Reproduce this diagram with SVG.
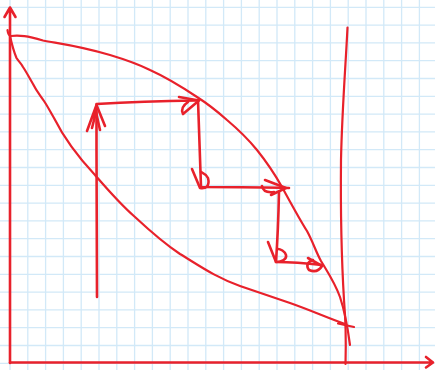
<svg xmlns="http://www.w3.org/2000/svg" width="435" height="370" viewBox="0 0 435 370">
<style>
.grid{stroke:#d2e9f8;stroke-width:1.3;fill:none}
.ink{stroke:#e8212b;stroke-width:2.6;fill:none;stroke-linecap:round;stroke-linejoin:round}
.thin{stroke-width:2.2}
</style>
<rect width="435" height="370" fill="#ffffff"/>
<path class="grid" d="M10,0V370M27.8,0V370M45.6,0V370M63.4,0V370M81.2,0V370M99,0V370M116.8,0V370M134.6,0V370M152.4,0V370M170.2,0V370M188,0V370M205.8,0V370M223.6,0V370M241.4,0V370M259.2,0V370M277,0V370M294.8,0V370M312.6,0V370M330.4,0V370M348.2,0V370M366,0V370M383.8,0V370M401.6,0V370M419.4,0V370
M0,7.3H435M0,25.1H435M0,42.9H435M0,60.7H435M0,78.5H435M0,96.3H435M0,114.1H435M0,131.9H435M0,149.7H435M0,167.5H435M0,185.3H435M0,203.1H435M0,220.9H435M0,238.7H435M0,256.5H435M0,274.3H435M0,292.1H435M0,309.9H435M0,327.7H435M0,345.5H435M0,363.3H435"/>
<g id="axes">
<path class="ink" d="M10,363V7.5M4.5,17L10,7.5L15.5,17"/>
<path class="ink" d="M10,362.5H433M426,357L433,362.5L426,367.5"/>
</g>
<g id="vertical-line">
<path class="ink thin" d="M347.5,27.5C346,60 342,110 341,160C340.5,210 341,250 344,300C346.5,330 346,345 345.5,364"/>
</g>
<g id="frontier">
<path class="ink thin" d="M7.5,30C8,34 9,36 11,36C20,35 27,36 43,40.5C62,44 80,46 110,55C130,61 140,65 150,70C170,79 185,89 197,97C208,104 218,112 227,120C240,131 248,139 257,150C265,160 273,171 282,187C293,207 300,220 307,231C313,242 316,252 321,261C327,271 335,283 340,297C345,312 348,330 350,345"/>
</g>
<g id="convex-curve">
<path class="ink thin" d="M10,36C12,45 14,52 16.5,58C19,62 21,63 23,67C27,73 30,79 33,84C37,92 40,95 44,101C48,107 51,113 54,118C64,138 80,159 95,175C108,190 120,204 135,217C150,231 165,244 180,254C200,266 215,277 240,286C258,292 275,298 290,303C310,310 328,318 345,324M338,323.5L354,327"/>
</g>
<g id="steps">
<path class="ink" d="M97,297C96.5,240 96.5,170 96.5,104C130,102 160,101 196,100.5"/>
<path class="ink" d="M87,131L96.5,105L105,126M92,128L96,112L100,130"/>
<path class="ink" d="M179,97L199,100.5L183,114C181,110 182,106 188,102"/>
<path class="ink" d="M198,100C199,130 200,160 201,187C230,187 260,187 289,188"/>
<path class="ink" d="M192,169L200,188C206,189 210,186 208,178C206,174 203,173 201,172"/>
<path class="ink" d="M265,180L286,188L271,195M262,186C263,191 267,193 274,192"/>
<path class="ink" d="M279,192C278.5,215 277.5,240 276,262C292,262 305,263 322,265"/>
<path class="ink" d="M268,242L276,262C282,262 287,259 286,255C285,251 280,249 278,249"/>
<path class="ink" d="M308,258L322,266C319,271 314,272 309,270C306,266 307,262 313,260"/>
</g>
</svg>
